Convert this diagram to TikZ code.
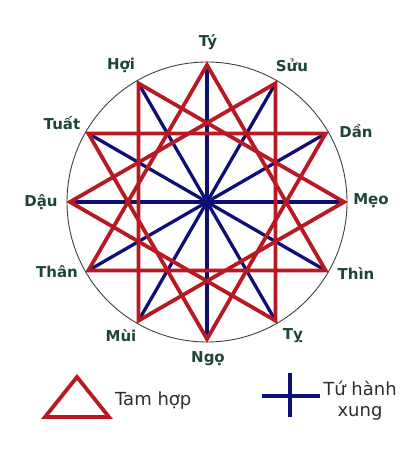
\documentclass[tikz,border=0pt]{standalone}
\usepackage{fontspec}
\setmainfont{DejaVu Sans}
\usetikzlibrary{calc}
\definecolor{tamred}{RGB}{185,25,35}
\definecolor{xungblue}{RGB}{15,15,115}
\definecolor{chigreen}{RGB}{30,70,55}
\definecolor{legendgray}{RGB}{45,45,45}
\tikzset{
  chi/.style={font=\fontsize{15}{17}\selectfont\bfseries,text=chigreen,inner sep=0pt},
  tamhop/.style={draw=tamred,line width=3.8pt,line join=miter},
  xung/.style={draw=xungblue,line width=3.3pt},
  legendtext/.style={font=\fontsize{18}{21}\selectfont,text=legendgray,inner sep=0pt},
}
\begin{document}
\begin{tikzpicture}[x=1pt,y=1pt,line cap=round,line join=round]
\useasboundingbox (0,0) rectangle (415,450);
\coordinate (c) at (207,248);
\draw[black!75,line width=0.9pt] (c) circle (140);
% the twelve branches, counter-clockwise from Meo
\foreach \n/\chiname/\lx/\ly in {0/Mẹo/371/249,1/Dần/356/319,2/Sửu/292/385,3/Tý/208/408,
  4/Hợi/121/385,5/Tuất/62/327,6/Dậu/41/248,7/Thân/57/178,
  8/Mùi/121/114,9/Ngọ/208/91,10/Tỵ/293/114,11/Thìn/356/176}
{
  \coordinate (p\n) at ($(c)+(\n*30:137)$);
  \node[chi] (l\n) at (\lx,\ly) {\chiname};
}
% tu hanh xung
\foreach \n [evaluate=\n as \m using int(\n+6)] in {0,...,5}
  \draw[xung] (p\n) -- (p\m);
% tam hop
\foreach \n [evaluate=\n as \m using int(\n+4),evaluate=\n as \k using int(\n+8)] in {0,...,3}
  \draw[tamhop] (p\n) -- (p\m) -- (p\k) -- cycle;
% legend
\coordinate (tl) at (45,33);
\coordinate (ta) at (77,73);
\coordinate (tr) at (109,33);
\draw[tamhop] (tl) -- (ta) -- (tr) -- cycle;
\node[legendtext,anchor=base west] (tamtext) at (115,44.3) {Tam hợp};
\coordinate (xl) at (262,54);
\coordinate (xr) at (320,54);
\coordinate (xt) at (290,77);
\coordinate (xb) at (290,33);
\draw[xung,line cap=butt] (xl) -- (xr) (xt) -- (xb);
\node[legendtext,align=center] (xungtext) at (360,49) {Tứ hành\\xung};
\end{tikzpicture}
\end{document}
